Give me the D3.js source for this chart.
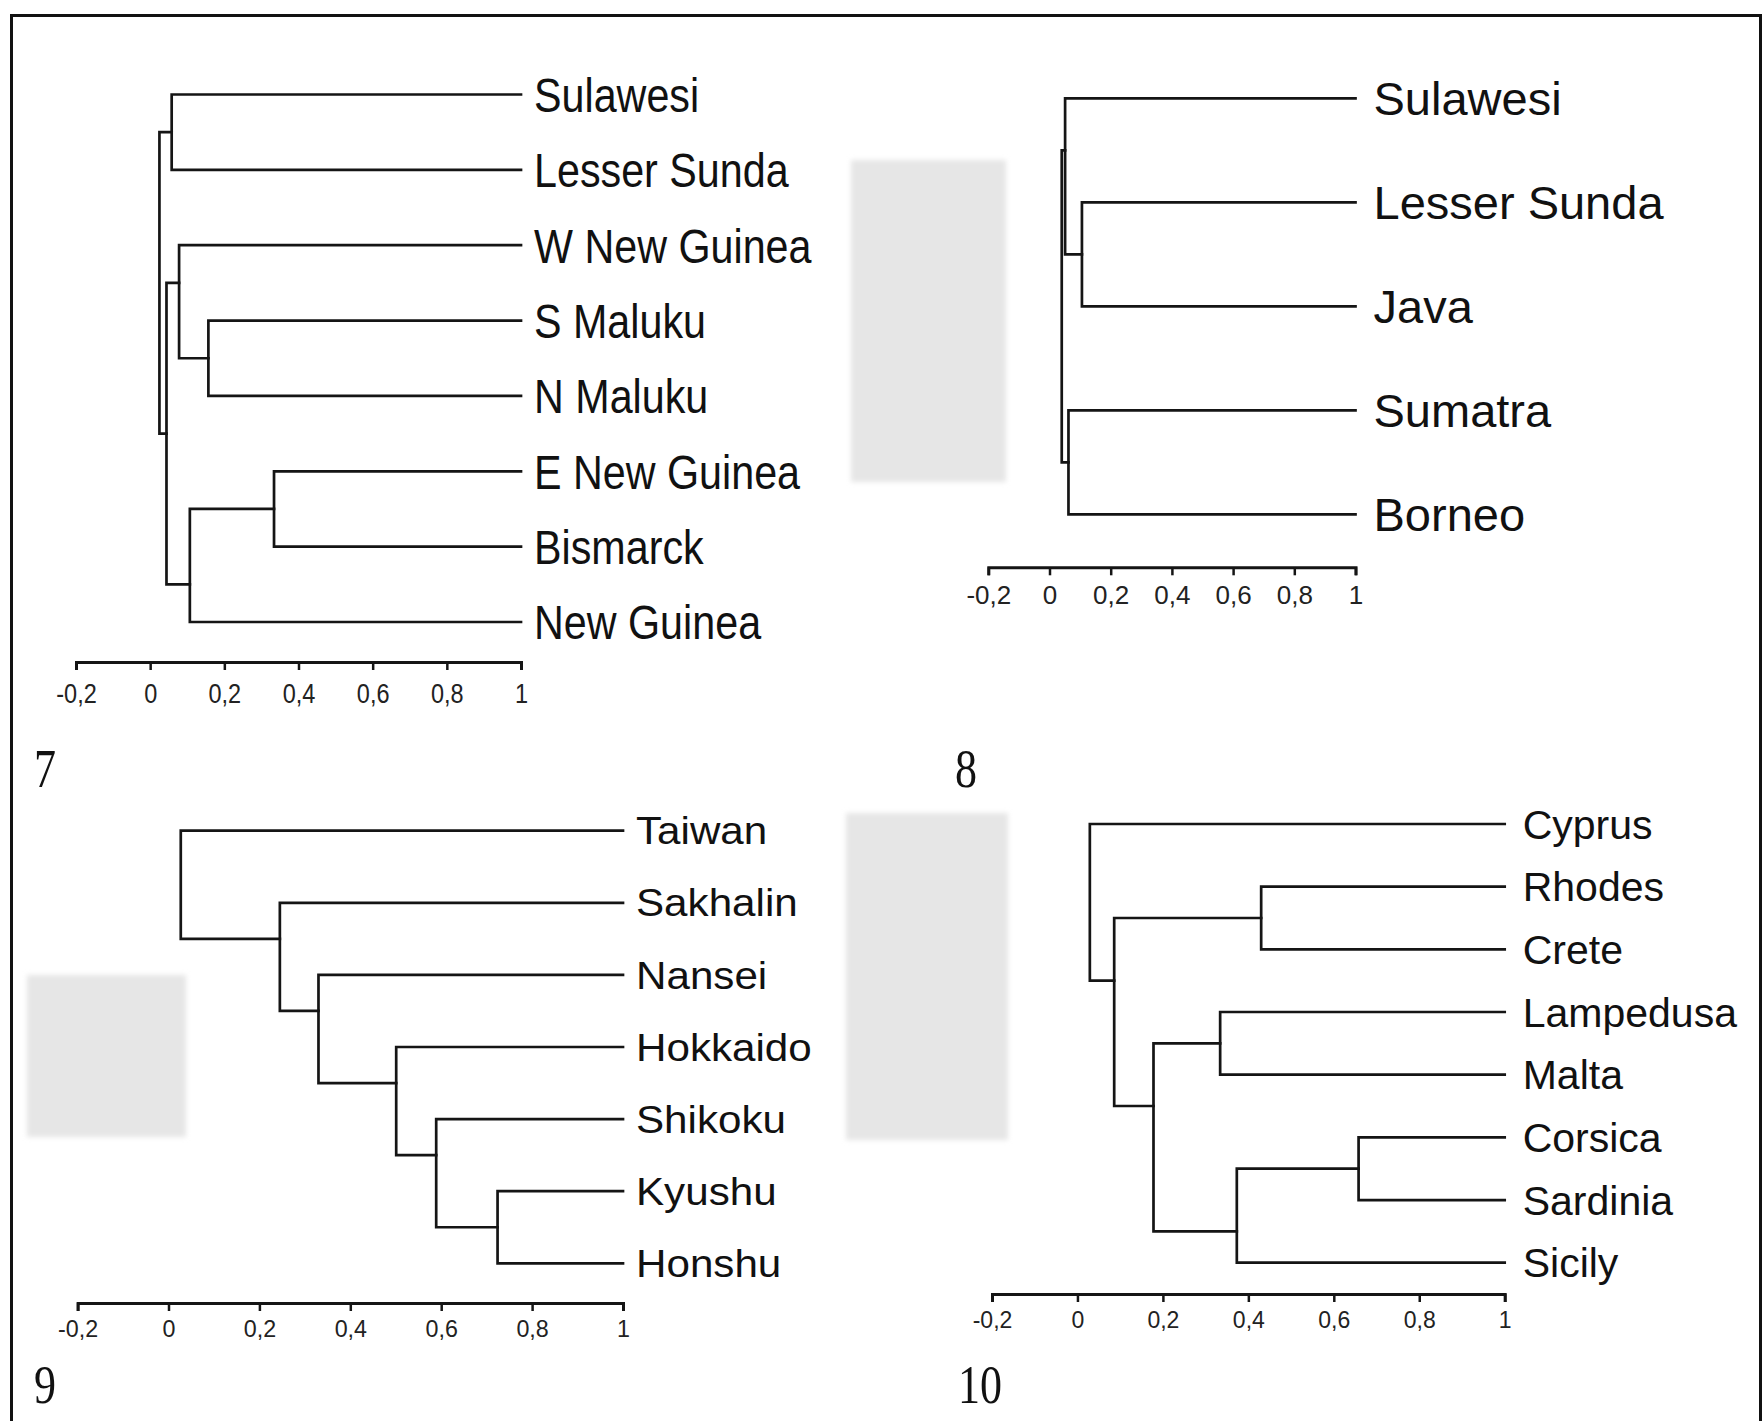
<!DOCTYPE html>
<html><head><meta charset="utf-8">
<script src="https://cdn.jsdelivr.net/npm/d3@7"></script>
<style>html,body{margin:0;padding:0;background:#fff;} svg{display:block;}</style>
</head><body>
<svg id="chart" width="1764" height="1421"></svg>
<script>
// ---------------- DATA ----------------
// Panel 7
const taxa7 = ["Sulawesi", "Lesser Sunda", "W New Guinea", "S Maluku", "N Maluku", "E New Guinea", "Bismarck", "New Guinea"];
const merges7 = [            // [child A, child B, similarity level]
  ["Sulawesi", "Lesser Sunda", 0.058],   // m0
  ["S Maluku", "N Maluku", 0.157],       // m1
  ["W New Guinea", "m1", 0.078],         // m2
  ["E New Guinea", "Bismarck", 0.334],   // m3
  ["m3", "New Guinea", 0.107],           // m4
  ["m2", "m4", 0.044],                   // m5
  ["m0", "m5", 0.025]                    // m6 (root)
];
// Panel 8
const taxa8 = ["Sulawesi", "Lesser Sunda", "Java", "Sumatra", "Borneo"];
const merges8 = [
  ["Lesser Sunda", "Java", 0.106],       // m0
  ["Sulawesi", "m0", 0.051],             // m1
  ["Sumatra", "Borneo", 0.062],          // m2
  ["m1", "m2", 0.040]                    // m3 (root)
];
// Panel 9
const taxa9 = ["Taiwan", "Sakhalin", "Nansei", "Hokkaido", "Shikoku", "Kyushu", "Honshu"];
const merges9 = [
  ["Kyushu", "Honshu", 0.724],           // m0
  ["Shikoku", "m0", 0.589],              // m1
  ["Hokkaido", "m1", 0.501],             // m2
  ["Nansei", "m2", 0.330],               // m3
  ["Sakhalin", "m3", 0.245],             // m4
  ["Taiwan", "m4", 0.027]                // m5 (root)
];
// Panel 10
const taxa10 = ["Cyprus", "Rhodes", "Crete", "Lampedusa", "Malta", "Corsica", "Sardinia", "Sicily"];
const merges10 = [
  ["Rhodes", "Crete", 0.430],            // m0
  ["Lampedusa", "Malta", 0.334],         // m1
  ["Corsica", "Sardinia", 0.658],        // m2
  ["m2", "Sicily", 0.373],               // m3
  ["m1", "m3", 0.178],                   // m4
  ["m0", "m4", 0.086],                   // m5
  ["Cyprus", "m5", 0.029]                // m6 (root)
];
const leafLevel = 1;
const axisDomain = [-0.2, 1];
const tickValues = [-0.2, 0, 0.2, 0.4, 0.6, 0.8, 1];
const panelNumbers = ["7", "8", "9", "10"];

// ---------------- LAYOUT ----------------
const panels = [
  {taxa: taxa7, merges: merges7, num: panelNumbers[0], x0: 76, x1: 521, yTop: 94.5, yBot: 622, axisY: 662,
   labelSize: 48, labelSX: 0.86, gap: 13, tickSize: 28, tickSX: 0.84, tickOff: 31, numX: 34, numY: 787},
  {taxa: taxa8, merges: merges8, num: panelNumbers[1], x0: 988.3, x1: 1355.5, yTop: 98.3, yBot: 514.3, axisY: 567.3,
   labelSize: 47, labelSX: 1.0, gap: 18, tickSize: 26, tickSX: 1.0, tickOff: 27, numX: 955, numY: 787},
  {taxa: taxa9, merges: merges9, num: panelNumbers[2], x0: 77.6, x1: 623, yTop: 830.7, yBot: 1263.3, axisY: 1303,
   labelSize: 38, labelSX: 1.11, gap: 13, tickSize: 24, tickSX: 0.97, tickOff: 25, numX: 34, numY: 1403},
  {taxa: taxa10, merges: merges10, num: panelNumbers[3], x0: 992, x1: 1504.7, yTop: 824, yBot: 1262.7, axisY: 1294,
   labelSize: 41, labelSX: 1.0, gap: 18, tickSize: 23, tickSX: 1.0, tickOff: 26, numX: 958, numY: 1403}
];
const greyBoxes = [
  {x: 851, y: 160, w: 155, h: 322},
  {x: 27, y: 975, w: 159, h: 162},
  {x: 846, y: 813, w: 162, h: 327}
];

const svg = d3.select("#chart");
const defs = svg.append("defs");
defs.append("filter").attr("id", "soft").attr("x", "-10%").attr("y", "-10%").attr("width", "120%").attr("height", "120%")
  .append("feGaussianBlur").attr("stdDeviation", 2.5);

svg.append("rect").attr("width", 1764).attr("height", 1421).attr("fill", "#fff");

svg.selectAll("rect.grey").data(greyBoxes).enter().append("rect")
  .attr("class", "grey")
  .attr("x", d => d.x).attr("y", d => d.y).attr("width", d => d.w).attr("height", d => d.h)
  .attr("fill", "#e6e6e6").attr("filter", "url(#soft)");

// frame
svg.append("path").attr("d", "M11.5,1421V15.5H1760.5V1421")
  .attr("fill", "none").attr("stroke", "#111").attr("stroke-width", 3);

const fmtLocale = d3.formatLocale({decimal: ",", thousands: ".", grouping: [3], currency: ["", ""], minus: "-"});
const fmt = v => fmtLocale.format("")(+v.toFixed(1));

function buildTree(taxa, merges) {
  const nodes = {};
  taxa.forEach(t => nodes[t] = {name: t, level: leafLevel});
  merges.forEach((m, i) => {
    nodes["m" + i] = {name: "m" + i, level: m[2], children: [nodes[m[0]], nodes[m[1]]]};
  });
  return d3.hierarchy(nodes["m" + (merges.length - 1)]);
}

panels.forEach(p => {
  const g = svg.append("g");
  const x = d3.scaleLinear().domain(axisDomain).range([p.x0, p.x1]);
  const y = d3.scalePoint().domain(p.taxa).range([p.yTop, p.yBot]);
  const root = buildTree(p.taxa, p.merges);

  // vertical placement: leaves on their rows, joins weighted toward the shallower branch
  root.eachAfter(n => {
    if (!n.children) { n.py = y(n.data.name); return; }
    const [a, b] = n.children;
    let wa = 1, wb = 1;
    if (a.height < b.height) wa = 2; else if (b.height < a.height) wb = 2;
    n.py = (a.py * wa + b.py * wb) / (wa + wb);
  });

  const joins = root.descendants().filter(n => n.children);
  g.selectAll("path.branch").data(joins).enter().append("path")
    .attr("class", "branch")
    .attr("d", n => {
      const [a, b] = n.children;
      const xn = x(n.data.level);
      return `M${x(a.data.level)},${a.py}H${xn}V${b.py}H${x(b.data.level)}`;
    })
    .attr("fill", "none").attr("stroke", "#151515").attr("stroke-width", 2.7)
    .attr("stroke-linejoin", "miter").attr("stroke-linecap", "square");

  // leaf labels
  g.selectAll("text.leaf").data(root.leaves()).enter().append("text")
    .attr("class", "leaf")
    .attr("transform", n => `translate(${x(leafLevel) + p.gap},${n.py}) scale(${p.labelSX},1)`)
    .attr("dy", "0.36em")
    .attr("font-family", "'Liberation Sans', Arial, sans-serif")
    .attr("font-size", p.labelSize)
    .attr("fill", "#111")
    .text(n => n.data.name);

  // axis
  const ax = g.append("g").attr("transform", `translate(0,${p.axisY})`)
    .call(d3.axisBottom(x).tickValues(tickValues).tickSize(8).tickSizeOuter(8).tickFormat(fmt));
  ax.select(".domain").attr("stroke", "#151515").attr("stroke-width", 3);
  ax.selectAll(".tick line").attr("stroke", "#151515").attr("stroke-width", 2.5);
  ax.selectAll(".tick text")
    .attr("y", p.tickOff).attr("dy", "0.36em")
    .attr("transform", `scale(${p.tickSX},1)`)
    .attr("font-family", "'Liberation Sans', Arial, sans-serif")
    .attr("font-size", p.tickSize)
    .attr("fill", "#222");

  // panel number
  svg.append("text")
    .attr("transform", `translate(${p.numX},${p.numY}) scale(0.8,1)`)
    .attr("font-family", "'Liberation Serif', 'Times New Roman', serif")
    .attr("font-size", 55)
    .attr("fill", "#111")
    .text(p.num);
});
</script>
</body></html>
